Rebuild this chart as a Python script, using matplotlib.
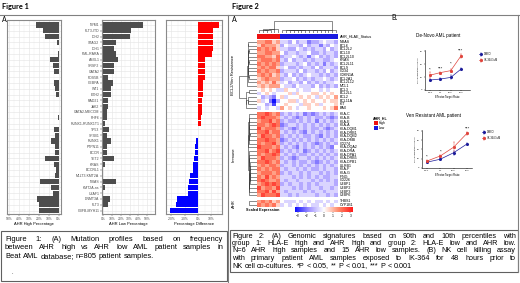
import numpy as np
import matplotlib
matplotlib.use("Agg")
import matplotlib.pyplot as plt
from matplotlib.colors import LinearSegmentedColormap
from matplotlib.patches import Rectangle
from matplotlib.lines import Line2D

plt.rcParams['font.family'] = ['Liberation Sans', 'DejaVu Sans']

# ---------------- Figure 1 data ----------------
genes = ["NPM1", "FLT3-ITD", "IDH2", "STAG2", "IDH1", "PML-RARA", "ASXL1", "SRSF2",
         "GATA2", "PDS5B", "CEBPA", "WT1", "EZH2", "RAD21", "JAK2", "GATA2-MECOM",
         "PHF6", "RUNX1-RUNX1T1", "TP53", "SF3B1", "RUNX1", "PTPN11", "BCOR", "TET2",
         "KRAS", "BCORL1", "MLLT3-KMT2A", "NRAS", "KMT2A-ns", "U2AF1", "DNMT3A",
         "FLT3", "CBFB-MYH11"]
high_pct = [22.6, 15.5, 14, 1.3, 0, 1, 8.3, 5.4, 5, 0, 4.4, 3.5, 3, 0, 0, 0, 1, 0,
            4.4, 3.5, 8, 4, 4, 14, 5, 3, 4, 18.7, 7.6, 6, 22, 20, 19.7]
low_pct = [45, 32, 30, 14.6, 12.7, 14.6, 17, 12.7, 12.7, 5.8, 10.8, 8.5, 8.5, 5, 5,
           4.6, 4.6, 2.3, 6, 4.6, 8.5, 4.6, 3.8, 12.7, 2.3, 0, 0, 15, 2.3, 0, 7.7, 5.8, 0]
diff_pct = [15.4, 11.5, 11.5, 11, 11, 10.2, 5.4, 5.4, 5.4, 4.9, 3.7, 3.7, 3.7, 3.2,
            3.2, 2.9, 2.4, 2.0, 0.3, -0.3, -1.7, -2.0, -2.4, -2.9, -3.7, -4.1, -6.0,
            -6.6, -7.3, -7.8, -15.9, -16.3, -21]

# ---------------- Figure 2A data ----------------
group_names = ["BCL2/Ven Resistance", "Immune", "AHR"]
bcl2_genes = ["NRAS", "BCL6", "BCL2L2", "BCL10", "BCL2L10", "KRAS", "BCL2L11", "BCL9",
              "CD34", "CDKN1A", "BCL2A1", "BCL2L12", "MCL1", "BCL3", "BCL2L1", "BCL2",
              "BCL11A", "KIT", "BAX"]
immune_genes = ["HLA-C", "HLA-B", "HLA-E", "HLA-A", "HLA-DQB1", "HLA-DRB1", "HLA-DQB2",
                "HLA-DMB", "CD274", "HLA-DQA2", "HLA-DRA", "HLA-DPA1", "HLA-DRB5",
                "HLA-DPB1", "LILRB1", "HLA-F", "HLA-G", "IFNG", "CD226", "ULBP1",
                "ULBP2", "ULBP3", "ULBP6"]
ahr_genes = ["THBS1", "CYP1B1"]
# digit code per cell: value = (digit - 5) * 0.6 ; first 6 columns = AHR high
bcl2_rows = [
    "778867443534423345443", "687776354443534424354", "878786443354343443534",
    "778877534434453343443", "887768344543424534343", "788878435344343443345",
    "878787344434534342434", "787886453343443534443", "878778344435344343534",
    "787867435343454434343", "678777344534343445434", "767686453443534343445",
    "676777544354443534343", "565654465545445545455", "456545556465556656565",
    "534325645556565465657", "645203556645656556566", "553415565554665645556",
    "454554756545565556568"]
immune_rows = [
    "889878343434232343434", "898887434323434334323", "788978343343434243434",
    "887898234434343434343", "978887343234343343234", "889788434343243434343",
    "798878343434334324343", "889887234343434343434", "878897343434343234343",
    "988878434324343434325", "889789343434234343434", "878898434343343434343",
    "798887343234434343434", "889878434343343234343", "787887344343434343434",
    "878788434434343343443", "788878343443434434343", "879787444343434343344",
    "898778434434443434343", "789898343443434344443", "978879444343434434434",
    "889797434444343443444", "798889443434444344343"]
ahr_rows = ["787867544454545445454", "878786454545454454545"]
status = ["High"] * 6 + ["Low"] * 15

# ---------------- Figure 2B data ----------------
ratios = ["0.3:1", "1:1", "10:1", "30:1"]
dn_dmso = [15.5, 17, 19.5, 32.5]
dn_dmso_err = [2, 1.5, 3, 1.5]
dn_ik = [23, 27, 30, 53]
dn_ik_err = [5, 1.5, 2, 3]
dn_stars = ["*", "***", "*", "***"]
dn_star_y = [31, 33, 40, 61]
vr_dmso = [12.5, 19, 33, 52]
vr_dmso_err = [2, 2, 4, 2]
vr_ik = [15, 26, 45, 75]
vr_ik_err = [2, 3, 12, 3]
vr_stars = ["*", "*", "", "***"]
vr_star_y = [24, 36, 0, 84]

W, H = 520, 283
fig = plt.figure(figsize=(W / 100, H / 100), dpi=100)


def rect(x0, y0, x1, y1):
    return [x0 / W, 1 - y1 / H, (x1 - x0) / W, (y1 - y0) / H]


bg = fig.add_axes([0, 0, 1, 1], zorder=0)
bg.set_xlim(0, W)
bg.set_ylim(H, 0)
bg.axis('off')

# frames
fc = '#808080'
for (xa, ya, xb, yb) in [(0, 15, 519, 15), (228, 15, 228, 282), (518, 15, 518, 272)]:
    bg.add_line(Line2D([xa, xb], [ya, yb], color=fc, lw=0.8))
bg.add_patch(Rectangle((1, 231), 226, 50, fill=False, ec='#606060', lw=0.8))
bg.add_patch(Rectangle((229.5, 230), 288, 42, fill=False, ec='#606060', lw=0.8))

bg.text(2, 7, "Figure 1", fontsize=5.3, fontweight='bold', family=['Lato', 'DejaVu Sans'], va='center')
bg.text(232, 7, "Figure 2", fontsize=5.3, fontweight='bold', family=['Lato', 'DejaVu Sans'], va='center')
bg.text(2, 19, "A.", fontsize=5, family=['Lato', 'DejaVu Sans'], va='center')
bg.text(232, 19, "A.", fontsize=5, family=['Lato', 'DejaVu Sans'], va='center')
bg.text(391, 18, "B.", fontsize=5, family=['Lato', 'DejaVu Sans'], va='center')

# ---------------- Figure 1 bar panels ----------------
ypos = np.arange(len(genes))


def bar_panel(box, vals, xlim, ticks, minors, xlabel, colors, labels):
    ax = fig.add_axes(rect(*box))
    ax.barh(ypos, vals, height=0.9, color=colors, zorder=3)
    ax.set_xlim(*xlim)
    ax.set_ylim(len(genes) - 0.4, -0.85)
    ax.set_xticks(ticks)
    ax.set_xticklabels([f"{t}%" for t in ticks])
    ax.set_xticks(minors, minor=True)
    ax.set_yticks(ypos)
    if labels:
        ax.set_yticklabels(genes, fontsize=2.5, color='#4d4d4d')
        ax.tick_params(axis='y', length=1.2, width=0.3, pad=0.6, color='#333333')
    else:
        ax.set_yticklabels([])
        ax.tick_params(axis='y', length=0)
    ax.tick_params(axis='x', which='major', labelsize=2.4, labelcolor='#4d4d4d',
                   length=1.2, width=0.3, pad=0.8, color='#333333')
    ax.tick_params(axis='x', which='minor', length=0)
    ax.grid(True, which='major', color='#e6e6e6', lw=0.45, zorder=0)
    ax.grid(True, which='minor', axis='x', color='#f0f0f0', lw=0.3, zorder=0)
    ax.set_axisbelow(True)
    for s in ax.spines.values():
        s.set_color('#8a8a8a')
        s.set_linewidth(0.8)
    ax.set_xlabel(xlabel, fontsize=2.9, labelpad=0.8, color='black')
    return ax


bar_panel((7, 20, 61, 214), high_pct, (52.5, -2.5), [50, 40, 30, 20, 10, 0],
          [45, 35, 25, 15, 5], "AHR High Percentage", '#4d4d4d', False)
bar_panel((102, 20, 155, 214), low_pct, (-1.5, 59), [0, 10, 20, 30, 40, 50],
          [5, 15, 25, 35, 45, 55], "AHR Low Percentage", '#4d4d4d', True)
bar_panel((166, 20, 222, 214), diff_pct, (-24, 18), [-20, -10, 0, 10],
          [-15, -5, 5, 15], "Percentage Difference",
          ['#ff0000' if v > 0 else '#0000ff' for v in diff_pct], False)

# ---------------- Figure 2A heatmap ----------------
cmap = LinearSegmentedColormap.from_list(
    "bwr2", [(0, '#1010ff'), (0.25, '#a395ff'), (0.5, '#ffffff'), (0.75, '#ff8a6a'), (1, '#ff1a1a')])


def decode(rows):
    return (np.array([[int(c) for c in r] for r in rows], float) - 5) * 0.6


mats = [decode(bcl2_rows), decode(immune_rows), decode(ahr_rows)]
gene_lists = [bcl2_genes, immune_genes, ahr_genes]
full = np.vstack(mats)


def adj_links(X):
    cl = [dict(m=[i], p=float(i), h=0.0) for i in range(len(X))]
    links = []

    def dist(a, b):
        A = X[a['m']]
        B = X[b['m']]
        return float(np.mean(np.sqrt(((A[:, None, :] - B[None, :, :]) ** 2).sum(-1))))
    while len(cl) > 1:
        ds = [dist(cl[k], cl[k + 1]) for k in range(len(cl) - 1)]
        k = int(np.argmin(ds))
        a, b = cl[k], cl[k + 1]
        h = max(ds[k], a['h'], b['h']) + 0.05
        links.append((a['p'], a['h'], b['p'], b['h'], h))
        cl[k:k + 2] = [dict(m=a['m'] + b['m'], p=(a['p'] + b['p']) / 2, h=h)]
    return links


x0h, x1h = 257, 338
rh = 3.68
group_top = [40.0, 112.4, 199.5]

# column dendrogram
axcd = fig.add_axes(rect(x0h, 21, x1h, 33))
clinks = adj_links(full.T)
cmax = max(l[4] for l in clinks)
for pa, ha, pb, hb, h in clinks:
    axcd.plot([pa, pa, pb, pb], [ha, h, h, hb], color='#333333', lw=0.4)
axcd.set_xlim(-0.5, len(status) - 0.5)
axcd.set_ylim(0, cmax * 1.02)
axcd.axis('off')

# annotation bar
axan = fig.add_axes(rect(x0h, 33.5, x1h, 39))
stat_cols = {'High': '#ee1111', 'Low': '#1a1ae0'}
for i, s in enumerate(status):
    axan.add_patch(Rectangle((i - 0.5, 0), 1, 1, color=stat_cols[s], lw=0))
axan.set_xlim(-0.5, len(status) - 0.5)
axan.set_ylim(0, 1)
axan.axis('off')
bg.text(340, 36.5, "AHR_HLAE_Status", fontsize=2.7, va='center')

# groups
all_links = [adj_links(m) if len(m) > 1 else [] for m in mats]
rmax = max(max(l[4] for l in lk) for lk in all_links if lk)
for gi, (m, gl, top) in enumerate(zip(mats, gene_lists, group_top)):
    n = len(m)
    bot = top + n * rh
    ax = fig.add_axes(rect(x0h, top, x1h, bot))
    ax.imshow(m, cmap=cmap, vmin=-3, vmax=3, aspect='auto', interpolation='nearest')
    ax.axis('off')
    for r, g in enumerate(gl):
        bg.text(340, top + (r + 0.5) * rh, g, fontsize=2.6, va='center')
    axd = fig.add_axes(rect(238, top, 256.5, bot))
    for pa, ha, pb, hb, h in all_links[gi]:
        axd.plot([ha, h, h, hb], [pa, pa, pb, pb], color='#333333', lw=0.4)
    axd.set_ylim(n - 0.5, -0.5)
    axd.set_xlim(rmax * 1.03, 0)
    axd.axis('off')
    bg.text(233.5, (top + bot) / 2, group_names[gi], fontsize=3, rotation=90,
            ha='center', va='center')

# colour legend
bg.text(246, 210, "Scaled Expression", fontsize=2.7, fontweight='bold', va='center')
axcb = fig.add_axes(rect(295, 207, 353, 212))
axcb.imshow(np.linspace(-3, 3, 256)[None, :], cmap=cmap, vmin=-3, vmax=3,
            aspect='auto', extent=(-3.3, 3.3, 0, 1))
axcb.set_yticks([])
axcb.set_xticks([-3, -2, -1, 0, 1, 2, 3])
axcb.tick_params(axis='x', labelsize=2.3, length=0.8, width=0.3, pad=0.6)
for s in axcb.spines.values():
    s.set_visible(False)

# status legend
bg.text(373, 118, "AHR_HL", fontsize=2.6, fontweight='bold', va='center')
for j, s in enumerate(["High", "Low"]):
    bg.add_patch(Rectangle((373.5, 121 + j * 4.6), 4, 4, color=stat_cols[s], lw=0))
    bg.text(379, 123 + j * 4.6, s, fontsize=2.4, va='center')

# ---------------- Figure 2B line charts ----------------
xi = np.arange(len(ratios))


def line_chart(box, xlim, ylim, yticks, dmso, dmso_err, ik, ik_err, stars, star_y,
               title, title_xy, leg_xy):
    ax = fig.add_axes(rect(*box))
    h1 = ax.errorbar(xi, dmso, yerr=dmso_err, color='#1c1c9a', marker='o', ms=1.2,
                     lw=0.5, elinewidth=0.3, capsize=0.6, capthick=0.3)
    h2 = ax.errorbar(xi, ik, yerr=ik_err, color='#e0443c', marker='s', ms=1.1,
                     lw=0.5, elinewidth=0.3, capsize=0.6, capthick=0.3)
    for i, (s, y) in enumerate(zip(stars, star_y)):
        if s:
            ax.text(i, y, s, fontsize=3.2, ha='center', va='center', clip_on=False)
    ax.set_xlim(*xlim)
    ax.set_ylim(*ylim)
    ax.set_xticks(xi)
    ax.set_xticklabels(ratios)
    ax.set_yticks(yticks)
    ax.tick_params(labelsize=1.7, length=1, width=0.3, pad=0.6)
    for s in ['top', 'right']:
        ax.spines[s].set_visible(False)
    for s in ['left', 'bottom']:
        ax.spines[s].set_linewidth(0.4)
    ax.set_xlabel("Effector:Target Ratio", fontsize=1.9, labelpad=1.5)
    ax.set_ylabel("NK cell mediated killing (%)", fontsize=1.5, labelpad=1)
    bg.text(title_xy[0], title_xy[1], title, fontsize=3.3, ha='center', va='center')
    ax.legend([h1, h2], ["DMSO", "IK-364 1uM"], loc='upper left',
              bbox_to_anchor=(leg_xy[0] / W, 1 - leg_xy[1] / H),
              bbox_transform=fig.transFigure, fontsize=1.8, frameon=False,
              handlelength=1.2, borderpad=0, labelspacing=0.8, handletextpad=0.6)
    return ax


line_chart((425, 50, 470, 90), (-0.5, 3.87), (0, 62), [0, 20, 40, 60],
           dn_dmso, dn_dmso_err, dn_ik, dn_ik_err, dn_stars, dn_star_y,
           "De-Novo AML patient", (438, 35), (478, 51))
line_chart((422, 130, 472, 168), (-0.37, 3.37), (0, 82), [0, 20, 40, 60, 80],
           vr_dmso, vr_dmso_err, vr_ik, vr_ik_err, vr_stars, vr_star_y,
           "Ven Resistant AML patient", (433, 116), (481, 129))

# ---------------- captions ----------------
renderer = fig.canvas.get_renderer()


def text_line(line, xa, xb, y, fs, justify=True):
    words = line.split(' ')
    ts = [bg.text(0, y, w, fontsize=fs, va='center', ha='left') for w in words]
    ws = [t.get_window_extent(renderer).width for t in ts]
    if justify and len(words) > 1:
        gap = (xb - xa - sum(ws)) / (len(words) - 1)
    else:
        gap = fs * 1.39 * 0.28
    x = xa
    for t, w in zip(ts, ws):
        t.set_x(x)
        x += w + gap


cap1 = ["Figure 1: (A) Mutation profiles based on frequency",
        "between AHR high vs AHR low AML patient samples in",
        "Beat AML database; n=805 patient samples."]
for i, l in enumerate(cap1):
    text_line(l, 5, 223, 239.5 + i * 8.3, 5.4, justify=(i < len(cap1) - 1))
bg.text(11, 272, ".", fontsize=4, va='center')

cap2 = ["Figure 2: (A) Genomic signatures based on 90th and 10th percentiles with",
        "group 1: HLA-E high and AHR high and group 2: HLA-E low and AHR low.",
        "N=6 AHR high samples and 15 AHR low samples. (B) NK cell killing assay",
        "with primary patient AML samples exposed to IK-364 for 48 hours prior to",
        "NK cell co-cultures. *P < 0.05, ** P < 0.01, *** P < 0.001"]
for i, l in enumerate(cap2):
    text_line(l, 232, 516, 236 + i * 7.5, 5.2, justify=(i < len(cap2) - 1))

fig.savefig("out.png", dpi=100)
